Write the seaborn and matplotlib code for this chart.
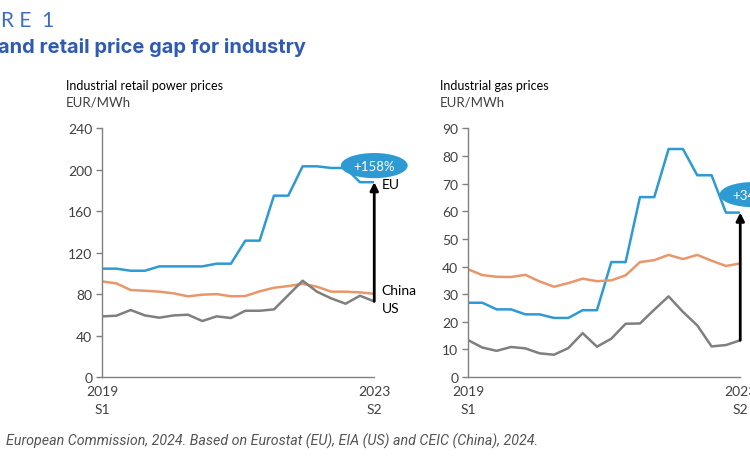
import numpy as np
import pandas as pd
import seaborn as sns
from matplotlib import pyplot as plt

sns.set_theme(style="white")
plt.rcParams["font.family"] = ["Lato", "DejaVu Sans"]

EU_BLUE = "#2E9AD3"
CN_ORANGE = "#E9966A"
US_GRAY = "#7F7F7F"
TITLE_BLUE = "#2F5BB0"
TEXT_GRAY = "#404040"

# quarterly points, 2019 S1 .. 2023 S2
periods = list(range(20))
tick_labels = ["2019\nS1", "2023\nS2"]

power_eu = [104.6, 104.6, 102.6, 102.6, 106.8, 106.8, 106.8, 106.8, 109.4, 109.4,
            131.6, 131.6, 175.0, 175.0, 203.3, 203.3, 201.7, 201.7, 188.0, 188.0]
power_china = [92.3, 90.4, 84.0, 83.3, 82.4, 80.8, 77.9, 79.5, 80.1, 77.9,
               78.2, 82.7, 86.2, 87.8, 90.0, 87.2, 82.4, 82.4, 81.7, 80.4]
power_us = [58.6, 59.2, 64.7, 59.5, 57.3, 59.5, 60.2, 54.1, 58.6, 57.0,
            64.0, 64.0, 65.3, 79.1, 93.0, 82.4, 75.9, 70.8, 78.5, 73.0]

gas_eu = [26.9, 26.9, 24.5, 24.5, 22.7, 22.7, 21.4, 21.4, 24.2, 24.2,
          41.6, 41.6, 65.1, 65.1, 82.5, 82.5, 73.0, 73.0, 59.5, 59.5]
gas_china = [39.0, 36.9, 36.3, 36.2, 37.0, 34.6, 32.7, 34.0, 35.6, 34.7,
             35.0, 36.8, 41.6, 42.3, 44.2, 42.7, 44.2, 42.1, 40.2, 41.1]
gas_us = [13.4, 10.7, 9.5, 10.9, 10.4, 8.6, 8.1, 10.5, 15.9, 11.0,
          13.9, 19.3, 19.4, 24.4, 29.2, 23.6, 18.7, 11.1, 11.6, 13.3]

PALETTE = {"EU": EU_BLUE, "China": CN_ORANGE, "US": US_GRAY}


def to_long(eu, china, us):
    frames = []
    for region, vals in (("EU", eu), ("China", china), ("US", us)):
        frames.append(pd.DataFrame({"period": periods, "value": vals, "region": region}))
    return pd.concat(frames, ignore_index=True)


def style_axis(ax, df, ylim, yticks):
    sns.lineplot(data=df, x="period", y="value", hue="region",
                 palette=PALETTE, linewidth=1.8, legend=False, ax=ax)
    ax.set_xlim(0, 19)
    ax.set_ylim(*ylim)
    ax.set_yticks(yticks)
    ax.set_xticks([0, 19])
    ax.set_xticklabels(tick_labels, linespacing=1.55)
    ax.set_xlabel("")
    ax.set_ylabel("")
    for side in ("top", "right"):
        ax.spines[side].set_visible(False)
    for side in ("left", "bottom"):
        ax.spines[side].set_color("#808080")
        ax.spines[side].set_linewidth(1.0)
    ax.tick_params(axis="y", length=4, width=1, color="#808080",
                   labelsize=10, labelcolor=TEXT_GRAY, pad=3, left=True)
    ax.tick_params(axis="x", length=0, labelsize=10, labelcolor=TEXT_GRAY, pad=6)


def gap_arrow(ax, top, bottom):
    ax.annotate("", xy=(19, top), xytext=(19, bottom),
                arrowprops=dict(arrowstyle="-|>", color="black", lw=2,
                                mutation_scale=12, shrinkA=0, shrinkB=0),
                annotation_clip=False)


def bubble(ax, x, y, label):
    ax.text(x, y, label, ha="center", va="center", color="white", fontsize=9.5,
            bbox=dict(boxstyle="ellipse,pad=0.22", fc=EU_BLUE, ec="none"),
            clip_on=False, zorder=5)


fig = plt.figure(figsize=(7.5, 4.6), dpi=100)
ax1 = fig.add_axes([0.136, 0.178, 0.363, 0.541])
ax2 = fig.add_axes([0.624, 0.178, 0.363, 0.541])

style_axis(ax1, to_long(power_eu, power_china, power_us), (0, 240), range(0, 241, 40))
style_axis(ax2, to_long(gas_eu, gas_china, gas_us), (0, 90), range(0, 91, 10))

gap_arrow(ax1, power_eu[-1], power_us[-1])
gap_arrow(ax2, gas_eu[-1], gas_us[-1])
bubble(ax1, 19.0, 204, "+158%")
bubble(ax2, 19.9, 66, "+345%")

for name, yv in (("EU", 186), ("China", 84.5), ("US", 66.5)):
    ax1.text(19.5, yv, name, ha="left", va="center", fontsize=10,
             color="black", clip_on=False)

# header and panel titles
fig.text(0.001, 0.955, "R E  1", fontsize=15, color="#3D6CC6", va="center")
fig.text(-0.003, 0.897, "and retail price gap for industry", fontsize=14.5,
         fontweight="bold", color=TITLE_BLUE, va="center", family=["Inter", "DejaVu Sans"])
fig.text(0.088, 0.813, "Industrial retail power prices", fontsize=9, color="black", va="center")
fig.text(0.088, 0.778, "EUR/MWh", fontsize=9.5, color=TEXT_GRAY, va="center")
fig.text(0.586, 0.813, "Industrial gas prices", fontsize=9, color="black", va="center")
fig.text(0.586, 0.778, "EUR/MWh", fontsize=9.5, color=TEXT_GRAY, va="center")

fig.text(0.008, 0.041, "European Commission, 2024. Based on Eurostat (EU), EIA (US) and CEIC (China), 2024.",
         fontsize=10.3, style="italic", color="#555555", va="center", family=["Roboto", "DejaVu Sans"])

plt.savefig("out.png", dpi=100)
